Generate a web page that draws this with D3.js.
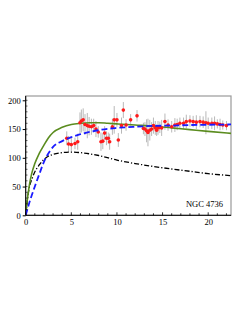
<!DOCTYPE html>
<html><head><meta charset="utf-8">
<script src="https://cdn.jsdelivr.net/npm/d3@7"></script>
<style>html,body{margin:0;padding:0;background:#fff;}svg{display:block;}</style>
</head><body>
<script>
// Model curves (radius kpc, velocity km/s)
const greenR = [0, 0.2, 0.4, 0.65, 1, 1.5, 2, 2.5, 3, 4, 5, 6, 7, 8, 9, 10, 12, 14, 16, 18, 20, 22.5];
const greenV = [0, 30, 52, 72, 90, 108, 122, 135, 144, 153, 158, 160, 161, 161, 160, 159, 157, 155, 152, 149, 146, 142.5];
const blueR = [0, 0.5, 1, 1.5, 2, 2.66, 3, 4, 5, 6, 7, 8, 9, 10, 12, 14, 16, 18, 20, 22.5];
const blueV = [0, 27, 50, 72, 93, 112, 119, 129, 136, 141, 145, 148, 150.5, 152, 154, 155.5, 156, 157, 157.5, 158];
const blackR = [0, 0.3, 0.8, 1.5, 2.3, 3, 4, 5, 6, 8, 10, 12, 14, 16, 18, 20, 22.5];
const blackV = [0, 40, 68, 88, 101, 106, 109, 110, 109, 104, 96, 90, 85, 80.5, 76.5, 72.5, 69];

// Observed rotation curve
const obsR = [4.5, 4.7, 5.0, 5.4, 5.7, 5.95, 6.1, 6.3, 6.5, 6.75, 6.95, 7.2, 7.45, 7.7, 7.95, 8.25, 8.45, 8.65, 8.85, 9.05, 9.2, 9.5, 9.7, 10.0, 10.15, 10.5, 10.7, 11.0, 11.5, 12.2, 12.9, 13.07, 13.25, 13.4, 13.6, 13.8, 14.0, 14.2, 14.35, 14.5, 14.7, 14.9, 15.26, 15.6, 16.0, 16.35, 16.6, 16.9, 17.3, 17.6, 18.0, 18.35, 18.7, 19.1, 19.45, 19.75, 20.0, 20.4, 20.7, 21.0, 21.3, 21.6, 22.0];
const obsV = [134, 124, 123, 125, 128, 161, 164, 166, 158, 156, 155, 154, 156, 150, 145, 128, 129, 143, 134, 134, 128, 154, 166, 166, 131, 156, 183, 157, 166, 173, 151, 150, 147, 144, 148, 150, 156, 152, 148, 152, 153, 152, 163, 157, 154, 157, 158, 160, 160, 163, 164, 163, 162, 163, 162, 161, 160, 160, 160, 159, 158, 157, 156];
const obsE = [12, 14, 12, 10, 14, 18, 20, 20, 18, 22, 16, 14, 12, 14, 10, 16, 14, 12, 12, 10, 14, 14, 24, 12, 12, 14, 14, 10, 10, 10, 10, 12, 20, 24, 18, 12, 14, 12, 10, 12, 10, 14, 14, 10, 10, 12, 10, 10, 10, 12, 10, 10, 12, 10, 10, 20, 10, 10, 12, 8, 10, 8, 8];

const xTicks = [0, 5, 10, 15, 20];
const yTicks = [0, 50, 100, 150, 200];
const label = "NGC 4736";

const W = 249, H = 323;
const svg = d3.select("body").append("svg").attr("width", W).attr("height", H);
const x = d3.scaleLinear().domain([0, 22.5]).range([25.7, 231]);
const y = d3.scaleLinear().domain([0, 207.5]).range([215.3, 96]);
const font = "'Liberation Serif','DejaVu Serif',serif";

// frame
svg.append("rect").attr("x", 25.7).attr("y", 96).attr("width", 231 - 25.7).attr("height", 215.3 - 96)
  .attr("fill", "none").attr("stroke", "#9a9a9a").attr("stroke-width", 1.2);

const g = svg.append("g");
const clip = svg.append("clipPath").attr("id", "c").append("rect")
  .attr("x", 25.7).attr("y", 96).attr("width", 231 - 25.7).attr("height", 215.3 - 96);
const plot = svg.append("g").attr("clip-path", "url(#c)");

// error bars
const obs = obsR.map((r, i) => ({r, v: obsV[i], e: obsE[i]}));
plot.selectAll("line.err").data(obs).join("line")
  .attr("x1", d => x(d.r)).attr("x2", d => x(d.r))
  .attr("y1", d => y(d.v - d.e)).attr("y2", d => y(d.v + d.e))
  .attr("stroke", "#b8b8b8").attr("stroke-width", 1);

// curves
const line = d3.line().x(d => x(d[0])).y(d => y(d[1])).curve(d3.curveMonotoneX);
plot.append("path").datum(blackR.map((r, i) => [r, blackV[i]])).attr("d", line)
  .attr("fill", "none").attr("stroke", "#000").attr("stroke-width", 1.3).attr("stroke-dasharray", "5,2,1.2,2");
plot.append("path").datum(greenR.map((r, i) => [r, greenV[i]])).attr("d", line)
  .attr("fill", "none").attr("stroke", "#5b8c1f").attr("stroke-width", 1.6);

// points
plot.selectAll("circle").data(obs).join("circle")
  .attr("cx", d => x(d.r)).attr("cy", d => y(d.v)).attr("r", 1.8).attr("fill", "#ff1a1a");

plot.append("path").datum(blueR.map((r, i) => [r, blueV[i]])).attr("d", line)
  .attr("fill", "none").attr("stroke", "#1a1aff").attr("stroke-width", 1.8).attr("stroke-dasharray", "6,3");

// axes
svg.append("line").attr("x1", 25.7).attr("x2", 231).attr("y1", 215.3).attr("y2", 215.3).attr("stroke", "#000").attr("stroke-width", 1);
svg.append("line").attr("x1", 25.7).attr("x2", 25.7).attr("y1", 96).attr("y2", 215.3).attr("stroke", "#000").attr("stroke-width", 1);

const xAxis = d3.axisBottom(x).tickValues(xTicks).tickSize(0).tickPadding(4).tickFormat(d3.format("d"));
const xa = svg.append("g").attr("transform", "translate(0,215.3)").call(xAxis);
xa.select(".domain").remove();
xa.selectAll("text").attr("font-family", font).attr("font-size", 8.5).attr("fill", "#000");
// minor x ticks (inward)
svg.selectAll("line.xm").data(d3.range(0, 23, 1)).join("line")
  .attr("x1", d => x(d)).attr("x2", d => x(d))
  .attr("y1", 215.3).attr("y2", d => 215.3 - (d % 5 === 0 ? 3 : 2))
  .attr("stroke", "#000").attr("stroke-width", 0.8);

const yAxis = d3.axisLeft(y).tickValues(yTicks).tickSize(3).tickPadding(2).tickFormat(d3.format("d"));
const ya = svg.append("g").attr("transform", "translate(25.7,0)").call(yAxis);
ya.select(".domain").remove();
ya.selectAll("text").attr("font-family", font).attr("font-size", 8.5).attr("fill", "#000");
svg.selectAll("line.ym").data(d3.range(10, 207, 10)).join("line")
  .attr("x1", 25.7).attr("x2", 27.5)
  .attr("y1", d => y(d)).attr("y2", d => y(d))
  .attr("stroke", "#000").attr("stroke-width", 0.6);

svg.append("text").attr("x", 223).attr("y", 207).attr("text-anchor", "end")
  .attr("font-family", font).attr("font-size", 8.5).attr("fill", "#000").text(label);
</script>
</body></html>
